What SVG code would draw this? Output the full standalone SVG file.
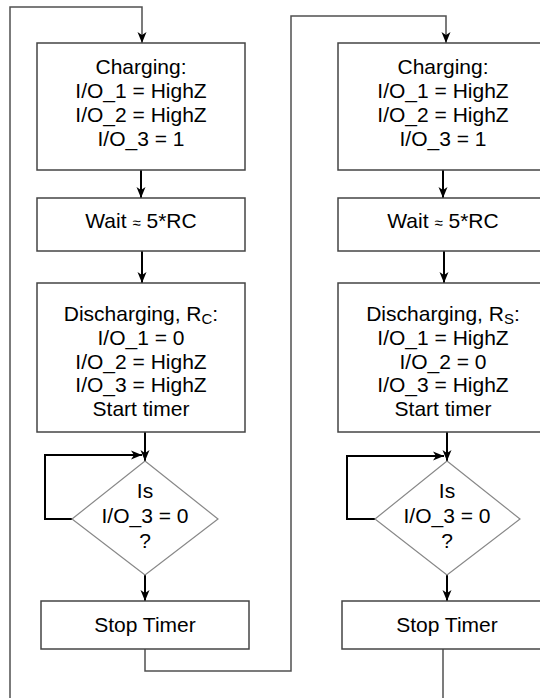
<svg xmlns="http://www.w3.org/2000/svg" width="540" height="698" viewBox="0 0 540 698">
  <style>
    .box { fill: #ffffff; stroke: #444444; stroke-width: 1.5; }
    .dia { fill: #ffffff; stroke: #888888; stroke-width: 1.2; }
    .lbl { font-family: "Liberation Sans", Arial, sans-serif; font-size: 21px; fill: #000000; text-anchor: middle; }
    .sub { font-size: 15px; }
    .sym { font-size: 15px; }
    .arr { fill: none; stroke: #000000; stroke-width: 2; }
    .run { fill: none; stroke: #505050; stroke-width: 1.5; }
  </style>
  <defs>
    <marker id="head" markerUnits="userSpaceOnUse" markerWidth="12" markerHeight="10" refX="11" refY="5" orient="auto">
      <path d="M0,0.5 L11,5 L0,9.5 L3,5 Z" fill="#000000"/>
    </marker>
  </defs>
  <rect width="540" height="698" fill="#ffffff"/>

  <!-- connectors -->
  <g id="connectors">
    <path class="run" d="M10,698 V7 H142 V43" marker-end="url(#head)"/>
    <path class="arr" d="M141,170 V198" marker-end="url(#head)"/>
    <path class="arr" d="M142,251 V283" marker-end="url(#head)"/>
    <path class="arr" d="M145,432 V461" marker-end="url(#head)"/>
    <path class="arr" d="M72,519 H45 V455 H142" marker-end="url(#head)"/>
    <path class="arr" d="M145,575 V601" marker-end="url(#head)"/>
    <path class="run" d="M145,649 V671 H291 V16 H446 V43" marker-end="url(#head)"/>
    <path class="arr" d="M443,170 V198" marker-end="url(#head)"/>
    <path class="arr" d="M444,251 V283" marker-end="url(#head)"/>
    <path class="arr" d="M447,432 V461" marker-end="url(#head)"/>
    <path class="arr" d="M375,519 H347 V456 H444" marker-end="url(#head)"/>
    <path class="arr" d="M447,575 V601" marker-end="url(#head)"/>
    <path class="run" d="M443,649 V698"/>
  </g>

  <!-- left column -->
  <g id="charge-c">
    <rect class="box" x="37" y="43" width="208" height="127"/>
    <text class="lbl" x="141" y="74">Charging:</text>
    <text class="lbl" x="141" y="98">I/O_1 = HighZ</text>
    <text class="lbl" x="141" y="122">I/O_2 = HighZ</text>
    <text class="lbl" x="141" y="146">I/O_3 = 1</text>
  </g>
  <g id="wait-c">
    <rect class="box" x="37" y="198" width="208" height="53"/>
    <text class="lbl" x="141" y="228">Wait <tspan class="sym">≈</tspan> 5*RC</text>
  </g>
  <g id="discharge-c">
    <rect class="box" x="37" y="283" width="208" height="149"/>
    <text class="lbl" x="141" y="321">Discharging, R<tspan class="sub" dy="3">C</tspan><tspan dy="-3">:</tspan></text>
    <text class="lbl" x="141" y="345">I/O_1 = 0</text>
    <text class="lbl" x="141" y="368.5">I/O_2 = HighZ</text>
    <text class="lbl" x="141" y="392">I/O_3 = HighZ</text>
    <text class="lbl" x="141" y="415.5">Start timer</text>
  </g>
  <g id="test-c">
    <polygon class="dia" points="145,461 218,519 145,575 72,519"/>
    <text class="lbl" x="145" y="498">Is</text>
    <text class="lbl" x="145" y="523">I/O_3 = 0</text>
    <text class="lbl" x="145" y="548">?</text>
  </g>
  <g id="stop-c">
    <rect class="box" x="41" y="601" width="208" height="48"/>
    <text class="lbl" x="145" y="632">Stop Timer</text>
  </g>

  <!-- right column -->
  <g id="charge-s">
    <rect class="box" x="338" y="43" width="210" height="127"/>
    <text class="lbl" x="443" y="74">Charging:</text>
    <text class="lbl" x="443" y="98">I/O_1 = HighZ</text>
    <text class="lbl" x="443" y="122">I/O_2 = HighZ</text>
    <text class="lbl" x="443" y="146">I/O_3 = 1</text>
  </g>
  <g id="wait-s">
    <rect class="box" x="338" y="198" width="210" height="53"/>
    <text class="lbl" x="443" y="228">Wait <tspan class="sym">≈</tspan> 5*RC</text>
  </g>
  <g id="discharge-s">
    <rect class="box" x="338" y="283" width="210" height="149"/>
    <text class="lbl" x="443" y="321">Discharging, R<tspan class="sub" dy="3">S</tspan><tspan dy="-3">:</tspan></text>
    <text class="lbl" x="443" y="345">I/O_1 = HighZ</text>
    <text class="lbl" x="443" y="368.5">I/O_2 = 0</text>
    <text class="lbl" x="443" y="392">I/O_3 = HighZ</text>
    <text class="lbl" x="443" y="415.5">Start timer</text>
  </g>
  <g id="test-s">
    <polygon class="dia" points="447,461 520,519 447,575 375,519"/>
    <text class="lbl" x="447" y="498">Is</text>
    <text class="lbl" x="447" y="523">I/O_3 = 0</text>
    <text class="lbl" x="447" y="548">?</text>
  </g>
  <g id="stop-s">
    <rect class="box" x="342" y="601" width="208" height="48"/>
    <text class="lbl" x="447" y="632">Stop Timer</text>
  </g>
</svg>
